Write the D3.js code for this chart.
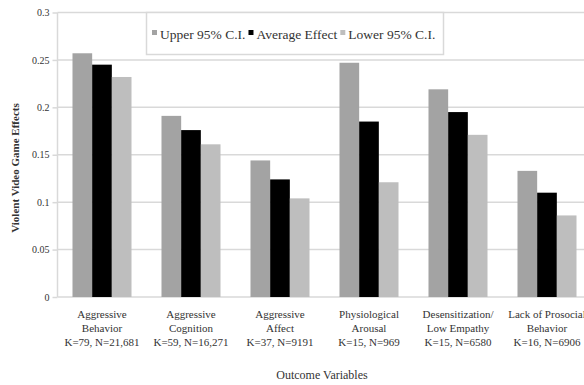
<!DOCTYPE html>
<html>
<head>
<meta charset="utf-8">
<script src="https://cdn.jsdelivr.net/npm/d3@7/dist/d3.min.js"></script>
<style>
  html, body { margin: 0; padding: 0; background: #fff; overflow: hidden; }
  svg { display: block; }
  text { font-family: "Liberation Serif", "Times New Roman", serif; fill: #333; }
</style>
</head>
<body>
<svg id="chart" width="584" height="385"></svg>
<script>
// Outcome categories (each label split into lines)
const categories = [
  ["Aggressive", "Behavior", "K=79, N=21,681"],
  ["Aggressive", "Cognition", "K=59, N=16,271"],
  ["Aggressive", "Affect", "K=37, N=9191"],
  ["Physiological", "Arousal", "K=15, N=969"],
  ["Desensitization/", "Low Empathy", "K=15, N=6580"],
  ["Lack of Prosocial", "Behavior", "K=16, N=6906"]
];
const seriesNames = ["Upper 95% C.I.", "Average Effect", "Lower 95% C.I."];
const upperCI  = [0.257, 0.191, 0.144, 0.247, 0.219, 0.133];
const average  = [0.245, 0.176, 0.124, 0.185, 0.195, 0.110];
const lowerCI  = [0.232, 0.161, 0.104, 0.121, 0.171, 0.086];
const yTicks = [0, 0.05, 0.1, 0.15, 0.2, 0.25, 0.3];
const yTickLabels = ["0", "0.05", "0.1", "0.15", "0.2", "0.25", "0.3"];

const seriesValues = [upperCI, average, lowerCI];
const colors = ["#a3a3a3", "#000000", "#bebebe"];

const svg = d3.select("#chart");
// the plot area runs past the right edge of the canvas
const plot = { left: 57.5, right: 591.5, top: 12.5, bottom: 297 };

const x0 = d3.scaleBand()
  .domain(d3.range(categories.length))
  .range([plot.left, plot.right])
  .paddingInner(0.337)
  .paddingOuter(0.1685);
const x1 = d3.scaleBand()
  .domain(d3.range(seriesNames.length))
  .range([0, x0.bandwidth()]);
const y = d3.scaleLinear().domain([0, 0.3]).range([plot.bottom, plot.top]);

// gridlines
svg.append("g")
  .selectAll("line")
  .data(yTicks)
  .join("line")
  .attr("x1", plot.left)
  .attr("x2", plot.right)
  .attr("y1", d => y(d))
  .attr("y2", d => y(d))
  .attr("stroke", "#d9d9d9")
  .attr("stroke-width", 1.5);

// y axis line
svg.append("line")
  .attr("x1", plot.left).attr("x2", plot.left)
  .attr("y1", plot.top).attr("y2", plot.bottom)
  .attr("stroke", "#d9d9d9").attr("stroke-width", 1.5);

// y axis labels
const yAxis = d3.axisLeft(y)
  .tickValues(yTicks)
  .tickFormat((d, i) => yTickLabels[i])
  .tickSize(5)
  .tickPadding(3);
const gy = svg.append("g").attr("transform", `translate(${plot.left},0)`).call(yAxis);
gy.select(".domain").remove();
gy.selectAll(".tick line").attr("stroke", "#d9d9d9").attr("stroke-width", 1.5);
gy.selectAll(".tick text")
  .attr("font-family", "Liberation Serif, serif")
  .attr("font-size", 10)
  .attr("fill", "#555");

// legend box
const legend = svg.append("g");
legend.append("rect")
  .attr("x", 146.5).attr("y", 12.5)
  .attr("width", 297).attr("height", 42)
  .attr("fill", "#fff")
  .attr("stroke", "#d9d9d9").attr("stroke-width", 1.5);

// bars
const groups = svg.append("g")
  .selectAll("g")
  .data(categories)
  .join("g")
  .attr("transform", (d, i) => `translate(${x0(i)},0)`);
groups.selectAll("rect")
  .data((d, i) => seriesValues.map((s, k) => ({ k, v: s[i] })))
  .join("rect")
  .attr("x", d => x1(d.k))
  .attr("width", x1.bandwidth())
  .attr("y", d => y(d.v))
  .attr("height", d => y(0) - y(d.v))
  .attr("fill", d => colors[d.k]);

// legend entries
let lx = 152;
seriesNames.forEach((name, k) => {
  legend.append("rect")
    .attr("x", lx).attr("y", 30)
    .attr("width", 5).attr("height", 5)
    .attr("fill", colors[k]);
  const t = legend.append("text")
    .attr("x", lx + 8).attr("y", 39)
    .attr("font-size", 13.5)
    .attr("fill", "#222")
    .text(name);
  lx += 8 + t.node().getComputedTextLength() + 3;
});

// category labels
const catG = svg.append("g");
categories.forEach((lines, i) => {
  const cx = x0(i) + x0.bandwidth() / 2;
  lines.forEach((line, j) => {
    catG.append("text")
      .attr("x", cx)
      .attr("y", 318 + j * 14)
      .attr("text-anchor", "middle")
      .attr("font-size", 11)
      .attr("fill", "#333")
      .text(line);
  });
});

// axis titles
svg.append("text")
  .attr("transform", "translate(19,168) rotate(-90)")
  .attr("text-anchor", "middle")
  .attr("font-size", 11)
  .attr("font-weight", "bold")
  .attr("fill", "#222")
  .text("Violent Video Game Effects");

svg.append("text")
  .attr("x", 322).attr("y", 379)
  .attr("text-anchor", "middle")
  .attr("font-size", 12)
  .attr("fill", "#333")
  .text("Outcome Variables");
</script>
</body>
</html>
